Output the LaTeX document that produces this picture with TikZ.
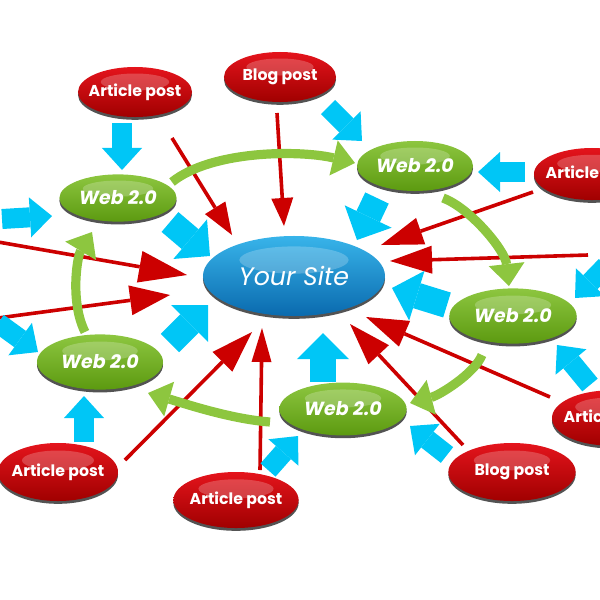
\documentclass[tikz,border=0pt]{standalone}
\usepackage{fontspec}
\setsansfont{Poppins}
\usetikzlibrary{arrows.meta,shapes.geometric,shadows,calc,backgrounds}
\definecolor{arrred}{HTML}{CC0000}
\definecolor{arrblue}{HTML}{00C6F6}
\definecolor{arrgreen}{HTML}{8DC63F}
\definecolor{redtop}{HTML}{E4141C}
\definecolor{redbot}{HTML}{A00000}
\definecolor{greentop}{HTML}{8DC640}
\definecolor{greenbot}{HTML}{5C9A10}
\definecolor{bluetop}{HTML}{38B4EA}
\definecolor{bluebot}{HTML}{0A6AAE}
\tikzset{
  bubble/.style={ellipse,inner xsep=-3cm,inner ysep=0pt,text=white,
    drop shadow={shadow xshift=0pt,shadow yshift=-2pt,fill=black!75,opacity=.9},
    path picture={\fill[white,fill opacity=.22] let \p1=(path picture bounding box.north east),
      \p2=(path picture bounding box.south west) in
      ([yshift={0.2*(\y1-\y2)}]path picture bounding box.center)
      ellipse [x radius={0.3*(\x1-\x2)},y radius={0.17*(\y1-\y2)}];}},
  postbox/.style={bubble,top color=redtop,bottom color=redbot,
    minimum width=2.85cm,minimum height=1.25cm,font=\sffamily\bfseries\fontsize{11.2}{13}\selectfont},
  webbox/.style={bubble,top color=greentop,bottom color=greenbot,
    minimum width=3cm,minimum height=1.3cm,font=\sffamily\bfseries\itshape\fontsize{13.5}{16}\selectfont},
  hubbox/.style={bubble,top color=bluetop,bottom color=bluebot,
    minimum width=4.55cm,minimum height=2cm,font=\sffamily\itshape\fontsize{18}{21}\selectfont},
  redarr/.style={draw=arrred,line width=0.09cm,-{Triangle[length=1.05cm,width=0.7cm,line width=0pt]}},
  bluearr/.style={draw=arrblue,line width=0.5cm,-{Triangle[length=0.55cm,width=1cm,line width=0pt]}},
  bigblue/.style={draw=arrblue,line width=0.65cm,-{Triangle[length=0.65cm,width=1.3cm,line width=0pt]}},
  greenarr/.style={draw=arrgreen,line width=0.23cm,-{Triangle[length=0.55cm,width=0.9cm,line width=0pt]}}
}
\begin{document}
\begin{tikzpicture}[x=0.025cm,y=-0.025cm]
\useasboundingbox (0,0) rectangle (600,600);
\clip (0,0) rectangle (600,600);
\node[hubbox] (site) at (294,276) {Your Site};
\node[webbox,minimum width=2.93cm,minimum height=1.18cm] (webA) at (118,198) {Web 2.0};
\node[webbox,minimum width=2.9cm,minimum height=1.25cm] (webB) at (415,166) {Web 2.0};
\node[webbox,minimum width=3.18cm,minimum height=1.38cm] (webC) at (513,316) {Web 2.0};
\node[webbox,minimum width=3.18cm,minimum height=1.32cm] (webD) at (343,409) {Web 2.0};
\node[webbox,minimum width=3.15cm,minimum height=1.38cm] (webE) at (100,362) {Web 2.0};
\node[postbox] (art1) at (135,92) {Article post};
\node[postbox,minimum width=2.8cm] (blog1) at (280,77) {Blog post};
\node[postbox,minimum width=2.9cm,minimum height=1.3cm] (art2) at (592,174) {Article post};
\node[postbox,minimum width=2.9cm,minimum height=1.38cm] (art3) at (610,418) {Article post};
\node[postbox,minimum width=3.18cm,minimum height=1.45cm] (blog2) at (512,472) {Blog post};
\node[postbox,minimum width=3.13cm,minimum height=1.4cm] (art4) at (236,500) {Article post};
\node[postbox,minimum width=3cm,minimum height=1.45cm] (art5) at (58,472) {Article post};
\coordinate (e1) at (588,255);
\coordinate (e2) at (-2,242);
\coordinate (e3) at (-2,318);
\coordinate (e4) at (2,219);
\coordinate (e5) at (-2,323);
\coordinate (e6) at (606,266);
\begin{scope}[on background layer]
\draw[redarr,-{Triangle[length=0.8cm,width=0.6cm,line width=0pt]}] ([shift={(37,46)}]art1.center) -- ([shift={(-62,-41)}]site.center);
\draw[redarr,-{Triangle[length=0.7cm,width=0.55cm,line width=0pt]}] ([shift={(-3,36)}]blog1.center) -- ([shift={(-10,-50)}]site.center);
\draw[redarr] ([shift={(-59,18)}]art2.center) -- ([shift={(87,-31)}]site.center);
\draw[redarr] (e1) -- ([shift={(96,-15)}]site.center);
\draw[redarr] ([shift={(-60,-21)}]art3.center) -- ([shift={(72,41)}]site.center);
\draw[redarr] ([shift={(-49,-27)}]blog2.center) -- ([shift={(56,48)}]site.center);
\draw[redarr,-{Triangle[length=0.85cm,width=0.5cm,line width=0pt]}] ([shift={(24,-30)}]art4.center) -- ([shift={(-32,52)}]site.center);
\draw[redarr] ([shift={(67,-12)}]art5.center) -- ([shift={(-42,56)}]site.center);
\draw[redarr,-{Triangle[length=1.2cm,width=0.8cm,line width=0pt]}] (e2) -- ([shift={(-107,-1)}]site.center);
\draw[redarr,-{Triangle[length=1cm,width=0.75cm,line width=0pt]}] (e3) -- ([shift={(-124,19)}]site.center);
\draw[bluearr] ([shift={(-13,31)}]art1.center) -- ([shift={(4,-28)}]webA.center);
\draw[bluearr] ([shift={(48,30)}]blog1.center) -- ([shift={(-53,-25)}]webB.center);
\draw[bluearr] ([shift={(-67,-2)}]art2.center) -- ([shift={(63,6)}]webB.center);
\draw[bluearr] (e4) -- ([shift={(-66,18)}]webA.center);
\draw[bigblue] ([shift={(52,24)}]webA.center) -- ([shift={(-84,-20)}]site.center);
\draw[bigblue] ([shift={(-38,32)}]webB.center) -- ([shift={(63,-36)}]site.center);
\draw[bigblue] ([shift={(-66,-11)}]webC.center) -- ([shift={(98,12)}]site.center);
\draw[bigblue] ([shift={(-20,-27)}]webD.center) -- ([shift={(29,57)}]site.center);
\draw[bigblue] ([shift={(70,-19)}]webE.center) -- ([shift={(-86,29)}]site.center);
\draw[bluearr] (e5) -- ([shift={(-62,-10)}]webE.center);
\draw[bluearr] ([shift={(26,-30)}]art5.center) -- ([shift={(-16,34)}]webE.center);
\draw[bluearr] ([shift={(32,-30)}]art4.center) -- ([shift={(-45,27)}]webD.center);
\draw[bluearr] ([shift={(-65,-17)}]blog2.center) -- ([shift={(67,17)}]webD.center);
\draw[bluearr] ([shift={(-20,-33)}]art3.center) -- ([shift={(44,29)}]webC.center);
\draw[bluearr] (e6) -- ([shift={(62,-18)}]webC.center);
\draw[greenarr] ([shift={(54,-16)}]webA.center) .. controls +(40,-32) and +(-55,-13) .. ([shift={(-60,-3)}]webB.center);
\draw[greenarr] ([shift={(28,32)}]webB.center) .. controls +(27,10) and +(-4,-36) .. ([shift={(-4,-30)}]webC.center);
\draw[greenarr] ([shift={(-31,39)}]webC.center) .. controls +(-7,18) and +(30,-8) .. ([shift={(67,-6)}]webD.center);
\draw[greenarr] ([shift={(-73,13)}]webD.center) .. controls +(-40,-3) and +(35,10) .. ([shift={(48,31)}]webE.center);
\draw[greenarr] ([shift={(-15,-30)}]webE.center) .. controls +(-15,-30) and +(-15,25) .. ([shift={(-26,34)}]webA.center);
\end{scope}
\end{tikzpicture}
\end{document}
